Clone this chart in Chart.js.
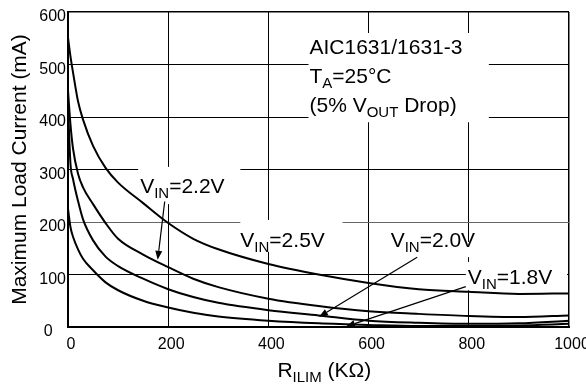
<!DOCTYPE html>
<html>
<head>
<meta charset="utf-8">
<script src="https://cdn.jsdelivr.net/npm/chart.js@4.4.0/dist/chart.umd.min.js"></script>
<style>
  html, body { margin: 0; padding: 0; background: #fff; }
  canvas { display: block; }
</style>
</head>
<body>
<canvas id="ilimChart" width="586" height="385"></canvas>
<script>
// R_ILIM (kOhm) sample points, shared by all four curves
var rIlim = [0, 5, 10, 20, 30, 50, 75, 100, 150, 200, 250, 300, 400, 500, 600, 700, 800, 900, 1000];

// maximum load current (mA) for each input voltage
var vin25 = [551, 515, 485, 430, 395, 345, 303, 275, 236, 198, 168, 148, 120, 100, 84, 72, 67, 63, 64];
var vin22 = [450, 385, 340, 292, 266, 234, 198, 168, 138, 114, 92, 76, 54, 40, 30, 25, 21, 19, 22];
var vin20 = [420, 310, 282, 240, 205, 165, 134, 116, 92, 72, 57, 46, 32, 22, 12, 8, 6, 7, 12];
var vin18 = [225, 190, 172, 148, 130, 108, 85, 70, 50, 37, 27, 20, 12, 7, 4, 2, 2, 3, 6];

var yTicks = [0, 100, 200, 300, 400, 500, 600];
var xTicks = [0, 200, 400, 600, 800, 1000];

var FONT = '"Liberation Sans", Arial, Helvetica, sans-serif';

function pts(ys) {
  return rIlim.map(function (x, i) { return { x: x, y: ys[i] }; });
}

// text labels (data units), white boxes behind them, and arrows
var boxes = [
  [140, 344, 234, 305],   // x1, x2, y1, y2
  [344, 548, 143, 204],
  [634, 824, 133, 162],
  [794, 996, 70, 124],
  [480, 840, 390, 560]
];
var labels = [
  { x: 144, y: 255, parts: [['V'], ['IN', 1], ['=2.2V']] },
  { x: 344, y: 152, parts: [['V'], ['IN', 1], ['=2.5V']] },
  { x: 644, y: 152, parts: [['V'], ['IN', 1], ['=2.0V']] },
  { x: 798, y: 82, parts: [['V'], ['IN', 1], ['=1.8V']] },
  { x: 482, y: 520, parts: [['AIC1631/1631-3']] },
  { x: 482, y: 465, parts: [['T'], ['A', 1], ['=25°C']] },
  { x: 482, y: 410, parts: [['(5% V'], ['OUT', 1], [' Drop)']] }
];
var arrows = [
  [193, 239, 179, 128],
  [697, 133, 501, 19],
  [794, 77, 555, 1]
];

function drawRich(ctx, x, y, parts) {
  parts.forEach(function (p) {
    var sub = p[1];
    ctx.font = (sub ? 15 : 21) + 'px ' + FONT;
    ctx.fillText(p[0], x, sub ? y + 5 : y);
    x += ctx.measureText(p[0]).width;
  });
}

var notesPlugin = {
  id: 'notes',
  beforeDatasetsDraw: function (chart) {
    var ctx = chart.ctx, xs = chart.scales.x, ys = chart.scales.y;
    ctx.save();
    ctx.fillStyle = '#fff';
    boxes.forEach(function (b) {
      var x1 = xs.getPixelForValue(b[0]), x2 = xs.getPixelForValue(b[1]);
      var y1 = ys.getPixelForValue(b[3]), y2 = ys.getPixelForValue(b[2]);
      ctx.fillRect(x1, y1, x2 - x1, y2 - y1);
    });
    ctx.fillStyle = '#000';
    ctx.textBaseline = 'alphabetic';
    ctx.textAlign = 'left';
    labels.forEach(function (l) {
      drawRich(ctx, xs.getPixelForValue(l.x), ys.getPixelForValue(l.y), l.parts);
    });
    // x axis title with subscript
    drawRich(ctx, xs.getPixelForValue(418), chart.chartArea.bottom + 50, [['R'], ['ILIM', 1], [' (KΩ)']]);
    ctx.restore();
  },
  afterDatasetsDraw: function (chart) {
    var ctx = chart.ctx, xs = chart.scales.x, ys = chart.scales.y;
    ctx.save();
    ctx.strokeStyle = '#000';
    ctx.fillStyle = '#000';
    ctx.lineWidth = 1.2;
    arrows.forEach(function (a) {
      var x1 = xs.getPixelForValue(a[0]), y1 = ys.getPixelForValue(a[1]);
      var x2 = xs.getPixelForValue(a[2]), y2 = ys.getPixelForValue(a[3]);
      var ang = Math.atan2(y2 - y1, x2 - x1), len = 9, w = 3.5;
      var bx = x2 - len * Math.cos(ang), by = y2 - len * Math.sin(ang);
      ctx.beginPath();
      ctx.moveTo(x1, y1);
      ctx.lineTo(bx, by);
      ctx.stroke();
      ctx.beginPath();
      ctx.moveTo(x2, y2);
      ctx.lineTo(bx + w * Math.sin(ang), by - w * Math.cos(ang));
      ctx.lineTo(bx - w * Math.sin(ang), by + w * Math.cos(ang));
      ctx.closePath();
      ctx.fill();
    });
    ctx.restore();
  }
};

function curve(label, ys) {
  return {
    label: label,
    data: pts(ys),
    borderColor: '#000',
    borderWidth: 2,
    pointRadius: 0,
    fill: false,
    cubicInterpolationMode: 'monotone'
  };
}

var ctx = document.getElementById('ilimChart').getContext('2d');
var ilimChart = new Chart(ctx, {
  type: 'line',
  data: {
    datasets: [
      curve('VIN=2.5V', vin25),
      curve('VIN=2.2V', vin22),
      curve('VIN=2.0V', vin20),
      curve('VIN=1.8V', vin18)
    ]
  },
  options: {
    responsive: false,
    animation: false,
    devicePixelRatio: 1,
    layout: { padding: 0 },
    plugins: {
      legend: { display: false },
      tooltip: { enabled: false }
    },
    scales: {
      x: {
        type: 'linear',
        min: 0,
        max: 1000,
        afterFit: function (s) { s.height = 58; s.paddingLeft = 0; s.paddingRight = 17; },
        afterBuildTicks: function (s) { s.ticks = xTicks.map(function (v) { return { value: v }; }); },
        grid: {
          color: '#000',
          lineWidth: function (c) { return c.tick && c.tick.value === 1000 ? 1.5 : 1; },
          drawTicks: true,
          tickLength: 8,
          tickColor: 'rgba(0,0,0,0)'
        },
        border: { color: '#000', width: 2 },
        ticks: {
          color: '#000',
          font: { family: FONT, size: 16 },
          padding: 0,
          labelOffset: 3,
          maxRotation: 0,
          callback: function (v) { return String(v); }
        }
      },
      y: {
        min: 0,
        max: 600,
        afterFit: function (s) { s.width = 68; s.paddingTop = 12; s.paddingBottom = 0; },
        afterBuildTicks: function (s) { s.ticks = yTicks.map(function (v) { return { value: v }; }); },
        grid: {
          color: function (c) { return c.tick && c.tick.value === 200 ? '#666' : '#000'; },
          lineWidth: function (c) { return c.tick && c.tick.value === 600 ? 1.5 : 1; },
          drawTicks: false
        },
        border: { color: '#000', width: 2 },
        ticks: {
          color: '#000',
          font: { family: FONT, size: 16 },
          padding: 2,
          labelOffset: 5,
          callback: function (v) { return v === 0 ? '0   ' : String(v); }
        },
        title: {
          display: true,
          text: 'Maximum Load Current (mA)',
          color: '#000',
          font: { family: FONT, size: 21 },
          padding: { top: 8, bottom: 0 }
        }
      }
    }
  },
  plugins: [notesPlugin]
});
</script>
</body>
</html>
